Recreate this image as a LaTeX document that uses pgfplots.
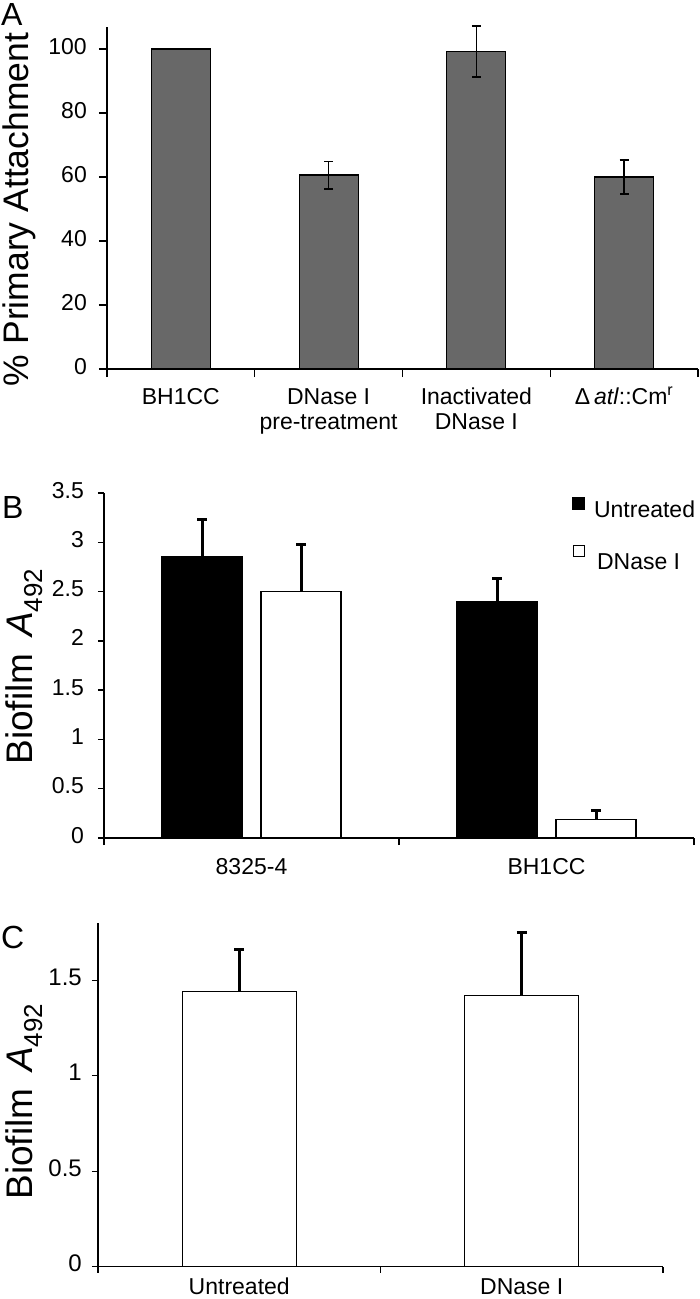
\documentclass[border=0pt]{standalone}
\usepackage{pgfplots}
\pgfplotsset{compat=1.18}
\usepackage{fontspec}
\setmainfont{Liberation Sans}
\definecolor{barA}{RGB}{104,104,104}
\begin{document}
\begin{tikzpicture}
\useasboundingbox (0,0) rectangle (700pt,-1299pt);
\pgfplotsset{
  panel/.style={
    scale only axis, anchor=south west,
    axis lines*=left, axis line style={line width=1.4pt},
    tick align=outside, major tick length=8pt, minor tick length=8pt,
    tick style={black, line width=1.4pt},
    major x tick style={draw=none},
    xtick pos=bottom, ytick pos=left,
    ymin=0, clip=false,
    typeset ticklabels with strut,
    /pgf/number format/assume math mode=true,
    tick label style={font=\fontsize{23}{25}\selectfont},
    xticklabel style={inner sep=0pt, align=center},
    ylabel style={font=\fontsize{37}{40}\selectfont, anchor=center},
    ybar, bar shift=0pt,
  },
  ebar/.style={error bars/.cd, y dir=both, y explicit,
    error bar style={line width=1.6pt},
    error mark options={rotate=90, line width=1.6pt, mark size=4.5pt}},
  ebarplus/.style={error bars/.cd, y dir=plus, y explicit,
    error bar style={line width=3pt},
    error mark options={rotate=90, line width=3pt, mark size=5pt}},
  legone/.style={legend image code/.code={\draw[##1, line width=1pt, draw=black] (0pt,0pt) rectangle (12pt,12pt);}},
  legtwo/.style={legend image code/.code={\draw[##1, line width=1pt, draw=black] (0.5pt,6pt) rectangle (11.5pt,17pt);}},
}
% Panel letters
\node[anchor=base west, inner sep=0pt, font=\fontsize{32}{34}\selectfont] at (1pt,-25pt) {A};
\node[anchor=base west, inner sep=0pt, font=\fontsize{32}{34}\selectfont] at (2pt,-518pt) {B};
\node[anchor=base west, inner sep=0pt, font=\fontsize{32}{34}\selectfont] at (1pt,-948pt) {C};

% Panel A
\begin{axis}[panel, at={(107pt,-369pt)}, width=591pt, height=342.4pt,
  xmin=-0.5, xmax=3.5, ymax=107,
  xtick={0,1,2,3}, minor xtick={-0.5,0.5,1.5,2.5,3.5},
  xticklabels={BH1CC, {DNase I\\pre-treatment}, {Inactivated\\DNase I}, {Δ\,\textit{atl}::Cm\textsuperscript{r}}},
  xticklabel style={yshift=-10pt},
  yticklabel style={inner sep=0pt, xshift=-12pt},
  ytick={0,20,40,60,80,100},
  ylabel={\% Primary Attachment},
  ylabel style={at={(axis description cs:-0.149,0.466)}, font=\fontsize{35.5}{40}\selectfont},
  bar width=59pt]
\addplot[fill=barA, draw=black, line width=1.2pt] coordinates {(0,100)};
\addplot[fill=barA, draw=black, line width=1.2pt, ebar] coordinates {(1,60.6) +- (0,4.3) (2,99.2) +- (0,7.9) (3,60.0) +- (0,5.3)};
\end{axis}

% Panel B
\begin{axis}[panel, at={(104pt,-838pt)}, width=590pt, height=345pt,
  xmin=-0.5, xmax=1.5, ymax=3.5,
  major tick length=6pt, minor tick length=7pt,
  xtick={0,1}, minor xtick={-0.5,0.5,1.5},
  xticklabels={8325-4, BH1CC},
  xticklabel style={yshift=-13pt},
  yticklabel style={inner sep=0pt, xshift=-14pt},
  ytick={0,0.5,1,1.5,2,2.5,3,3.5},
  ylabel={Biofilm\hspace{0.45em}\textit{A}\textsubscript{492}},
  ylabel style={at={(axis description cs:-0.1356,0.497)}},
  bar width=80pt,
  legend style={draw=none, fill=none, at={(axis description cs:0.793,0.988)}, anchor=north west,
    inner sep=0pt, row sep=24pt, column sep=7pt, font=\fontsize{23}{25}\selectfont, cells={anchor=west}}]
\addplot[fill=black, draw=black, line width=1.2pt, bar shift=-49.5pt, legone, ebarplus]
  coordinates {(0,2.85) +- (0,0.38) (1,2.40) +- (0,0.23)};
\addlegendentry{Untreated}
\addplot[fill=white, draw=black, line width=1.2pt, bar shift=49.5pt, legtwo, ebarplus]
  coordinates {(0,2.50) +- (0,0.48) (1,0.19) +- (0,0.09)};
\addlegendentry{\hspace*{3pt}DNase I}
\end{axis}

% Panel C
\begin{axis}[panel, at={(98pt,-1266.7pt)}, width=565pt, height=343.8pt,
  xmin=-0.5, xmax=1.5, ymax=1.8,
  major tick length=6pt, minor tick length=6pt,
  xtick={0,1}, minor xtick={-0.5,0.5,1.5},
  xticklabels={Untreated, DNase I},
  xticklabel style={yshift=-4pt, text depth=0pt},
  yticklabel style={inner sep=0pt, xshift=-10pt, font=\fontsize{24}{26}\selectfont},
  ytick={0,0.5,1,1.5},
  ylabel={Biofilm\hspace{0.45em}\textit{A}\textsubscript{492}},
  ylabel style={at={(axis description cs:-0.131,0.4805)}},
  bar width=114pt]
\addplot[fill=white, draw=black, line width=1.2pt, ebarplus] coordinates {(0,1.44) +- (0,0.22) (1,1.42) +- (0,0.33)};
\end{axis}
\end{tikzpicture}
\end{document}
